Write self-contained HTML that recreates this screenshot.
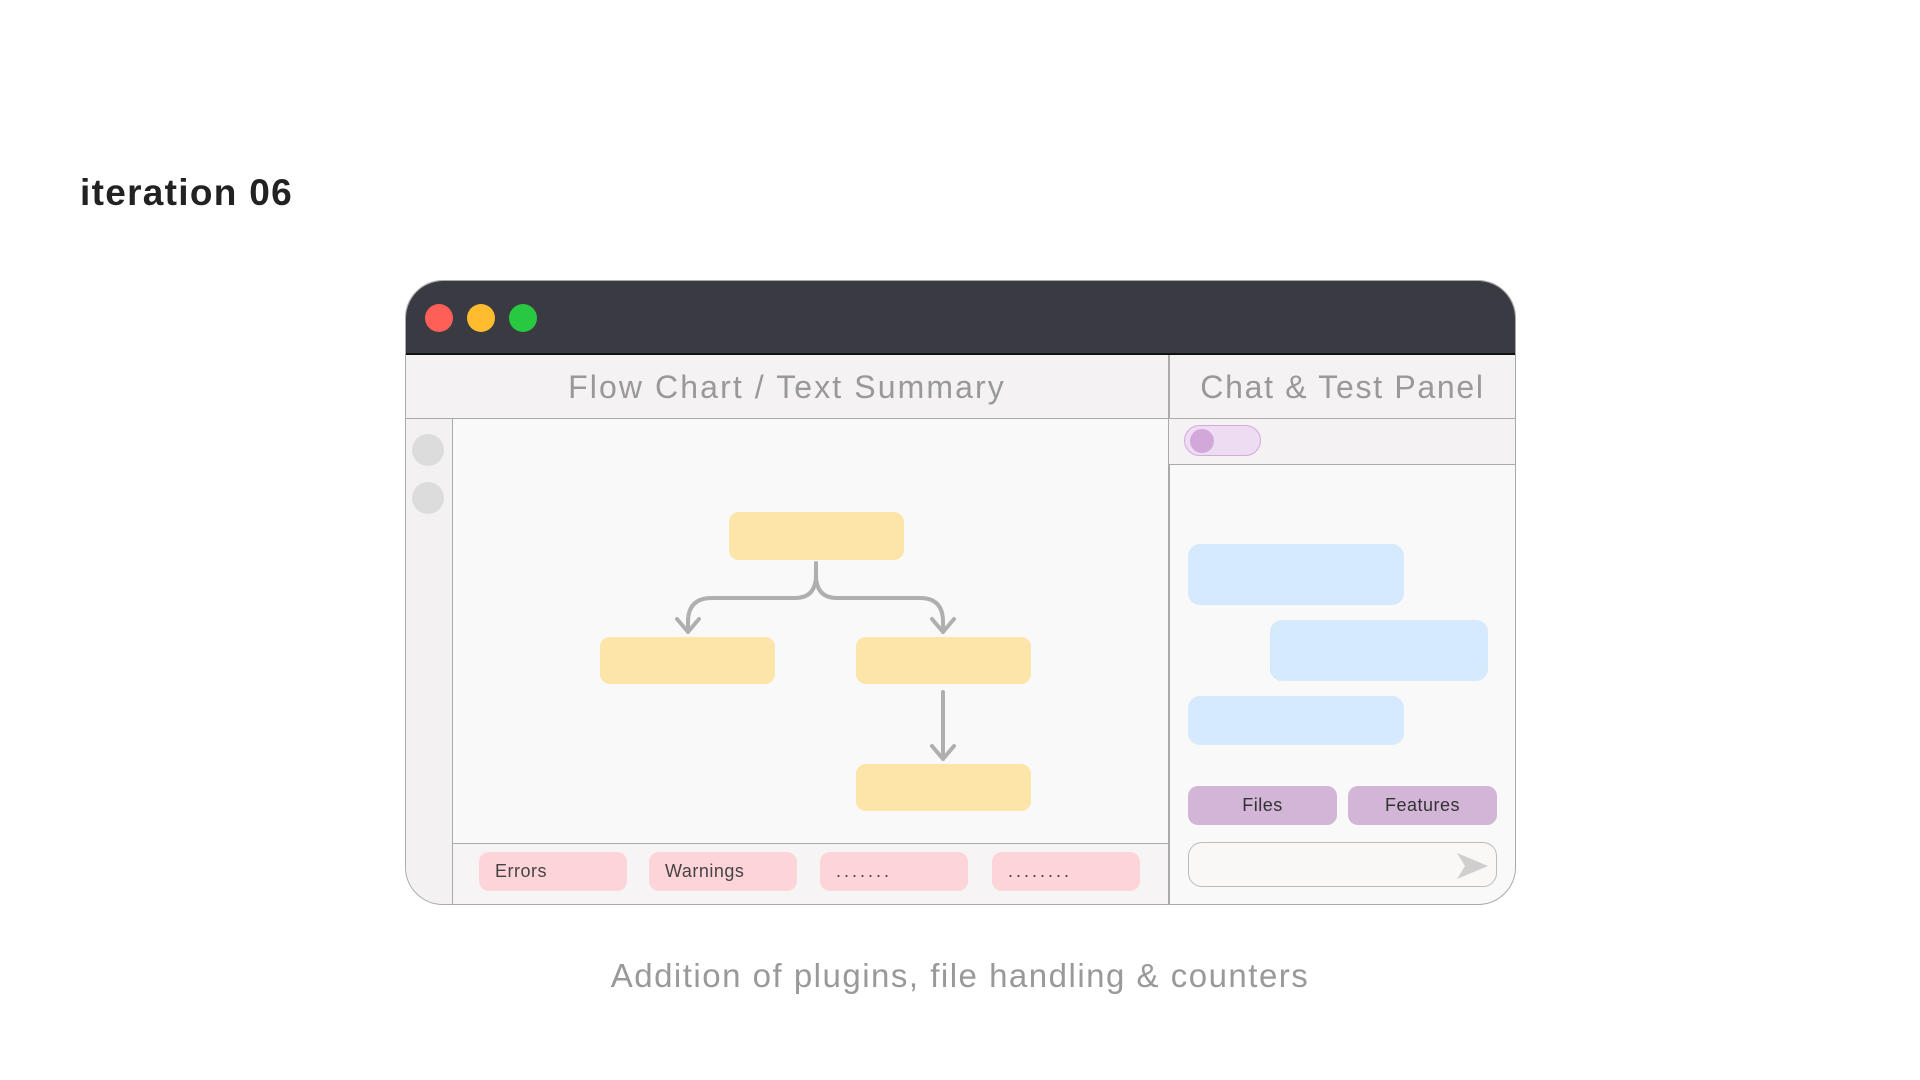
<!DOCTYPE html>
<html><head><meta charset="utf-8"><style>
*{margin:0;padding:0;box-sizing:border-box}
body{width:1920px;height:1080px;background:#fff;position:relative;overflow:hidden;font-family:"Liberation Sans",sans-serif}
.a{position:absolute}
.fb{position:absolute;background:#fde4a8;border-radius:10px}
.tag{position:absolute;background:#fdd5d8;border-radius:10px;top:852px;height:39px;width:148px;font-size:18px;color:#444;line-height:39px;padding-left:16px;letter-spacing:0.5px}
.dots{letter-spacing:3px}
.bub{position:absolute;background:#d5eafc;border-radius:12px}
.pb{position:absolute;background:#d3b5d7;border-radius:10px;top:786px;height:39px;width:149px;text-align:center;line-height:39px;font-size:18px;color:#333;letter-spacing:0.5px}
</style></head><body>
<div class="a" style="left:80px;top:172px;font-size:37px;font-weight:bold;color:#222;letter-spacing:1.3px">iteration 06</div>

<div class="a" style="left:405px;top:280px;width:1111px;height:625px;border:1.5px solid #aaa;border-radius:38px;overflow:hidden;background:#f9f9f9">
  <div class="a" style="left:0;top:0;width:100%;height:74px;background:#3a3a43;border-bottom:2px solid #111"></div>
  <div class="a" style="left:19px;top:23px;width:28px;height:28px;border-radius:50%;background:#fe5f57"></div>
  <div class="a" style="left:61px;top:23px;width:28px;height:28px;border-radius:50%;background:#febc2e"></div>
  <div class="a" style="left:103px;top:23px;width:28px;height:28px;border-radius:50%;background:#28c840"></div>
  <div class="a" style="left:0;top:74px;width:100%;height:64px;background:#f4f2f3;border-bottom:1.5px solid #aaa"></div>
  <div class="a" style="left:0;top:74px;width:762px;height:64px;line-height:64px;text-align:center;font-size:32px;color:#999;letter-spacing:2.1px">Flow Chart / Text Summary</div>
  <div class="a" style="left:762px;top:74px;width:349px;height:64px;line-height:64px;text-align:center;font-size:32px;color:#999;letter-spacing:1.7px">Chat &amp; Test Panel</div>
  <div class="a" style="left:762px;top:74px;width:1.5px;height:551px;background:#aaa"></div>
  <div class="a" style="left:0;top:138px;width:47px;height:487px;background:#f3f1f2;border-right:1.5px solid #aaa"></div>
  <div class="a" style="left:6px;top:153px;width:32px;height:32px;border-radius:50%;background:#dcdcdc"></div>
  <div class="a" style="left:6px;top:201px;width:32px;height:32px;border-radius:50%;background:#dcdcdc"></div>
  <div class="a" style="left:47px;top:562px;width:715px;height:63px;background:#f6f4f5;border-top:1.5px solid #aaa"></div>
  <div class="a" style="left:763px;top:138px;width:348px;height:46px;background:#f4f2f3;border-bottom:1.5px solid #aaa"></div>
</div>

<div class="fb" style="left:729px;top:512px;width:175px;height:48px"></div>
<div class="fb" style="left:600px;top:637px;width:175px;height:47px"></div>
<div class="fb" style="left:856px;top:637px;width:175px;height:47px"></div>
<div class="fb" style="left:856px;top:764px;width:175px;height:47px"></div>
<svg class="a" style="left:0;top:0" width="1920" height="1080">
<g fill="none" stroke="#afafaf" stroke-width="4" stroke-linecap="round" stroke-linejoin="round">
<path d="M816 563 V575 Q816 598 795 598 H712 Q688 598 688 622 V632"/>
<path d="M816 575 Q816 598 837 598 H920 Q943 598 943 622 V632"/>
<path d="M677 619 L688 632 L699 619"/>
<path d="M932 619 L943 632 L954 619"/>
<path d="M943 692 V759"/>
<path d="M932 746 L943 759 L954 746"/>
</g>
</svg>

<div class="tag" style="left:479px">Errors</div>
<div class="tag" style="left:649px">Warnings</div>
<div class="tag dots" style="left:820px">.......</div>
<div class="tag dots" style="left:992px">........</div>

<div class="a" style="left:1184px;top:425px;width:77px;height:31px;border-radius:16px;background:#eedcf2;border:1.5px solid #d4a9dc"></div>
<div class="a" style="left:1190px;top:429px;width:24px;height:24px;border-radius:50%;background:#d2a8da"></div>

<div class="bub" style="left:1188px;top:544px;width:216px;height:61px"></div>
<div class="bub" style="left:1270px;top:620px;width:218px;height:61px"></div>
<div class="bub" style="left:1188px;top:696px;width:216px;height:49px"></div>

<div class="pb" style="left:1188px">Files</div>
<div class="pb" style="left:1348px">Features</div>
<div class="a" style="left:1188px;top:842px;width:309px;height:45px;border:1.5px solid #bbb;border-radius:14px;background:#faf7f7"></div>
<svg class="a" style="left:1450px;top:845px" width="45" height="40"><path d="M7 8 L38 21 L7 34 L15 21 Z" fill="#cfcfcf"/></svg>

<div class="a" style="left:0;top:957px;width:1920px;text-align:center;font-size:33px;color:#999;letter-spacing:1.5px">Addition of plugins, file handling &amp; counters</div>
</body></html>
